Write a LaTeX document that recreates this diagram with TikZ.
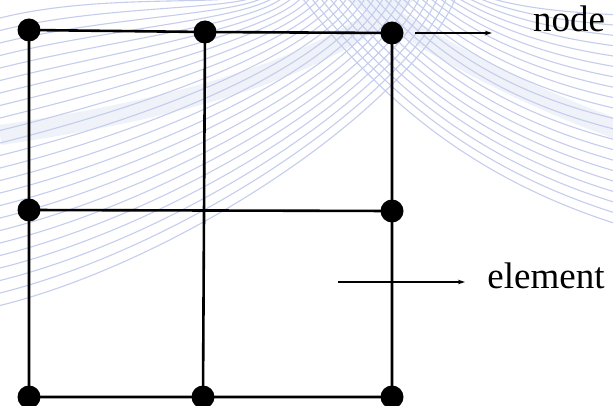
\documentclass[tikz,border=0pt]{standalone}
\usepackage{fontspec}
\setmainfont{Liberation Serif}
\usetikzlibrary{arrows.meta,positioning}
\definecolor{swirl}{RGB}{196,205,236}
\definecolor{swirlband}{RGB}{240,242,250}
\tikzset{
  dot/.style={circle,fill=black,inner sep=0pt,minimum size=23pt},
  mesh/.style={line width=2.6pt},
  pointer/.style={line width=1.1pt,-{Stealth[length=7pt,width=4.5pt]}},
  tag/.style={font=\fontsize{37}{40}\selectfont,anchor=base,inner sep=0pt}
}

\begin{document}
\begin{tikzpicture}[x=1pt,y=-1pt]
\useasboundingbox (0,0) rectangle (613,406);
% background swirl
\begin{scope}
    \clip (0,0) rectangle (613,406);
    \draw [swirlband, line width=20pt] (0,135) .. controls (170,110) and (330,70) .. (410,-10);
    \draw [swirlband, line width=20pt] (350,-10) .. controls (420,40) and (520,95) .. (620,130);
    \foreach \k in {0,...,23} {
        \pgfmathsetmacro\ys{18+12.5*\k}
        \pgfmathsetmacro\xe{250+9*\k}
        \draw [swirl, line width=1.1pt] (0,\ys) .. controls ({0.4*\xe},{\ys-0.1*\xe}) and ({0.9*\xe},{0.35*\ys}) .. (\xe,-5);
    }
    \foreach \m in {0,...,20} {
        \pgfmathsetmacro\xs{480-9*\m}
        \pgfmathsetmacro\ye{15+10.5*\m}
        \draw [swirl, line width=1.1pt] (\xs,-5) .. controls ({\xs+0.25*(620-\xs)},{0.45*\ye}) and ({\xs+0.55*(620-\xs)},{0.8*\ye}) .. (620,\ye);
    }
\end{scope}

% mesh nodes
\node [dot] (n11) at (29,30) {};
\node [dot] (n12) at (205,32) {};
\node [dot] (n13) at (392,33) {};
\node [dot] (n21) at (29,210) {};
\node [dot] (n23) at (392,211) {};
\node [dot] (n31) at (29,397) {};
\node [dot] (n32) at (203,397) {};
\node [dot] (n33) at (392,397) {};

% element edges
\draw [mesh] (n11.center) -- (n12.center) -- (n13.center) -- (n23.center) -- (n33.center)
    -- (n32.center) -- (n31.center) -- (n21.center) -- (n11.center);
\draw [mesh] (n21.center) -- (n23.center);
\draw [mesh] (n12.center) -- (n32.center);

% labels
\node [tag] (lnode) at (569,32) {node};
\node [tag] (lelem) at (546,288) {element};
\coordinate (pn) at (415,33);
\coordinate (qn) at (492,33);
\coordinate (pe) at (338,282);
\coordinate (qe) at (465,282);
\draw [pointer] (pn) -- (qn);
\draw [pointer] (pe) -- (qe);
\end{tikzpicture}
\end{document}
